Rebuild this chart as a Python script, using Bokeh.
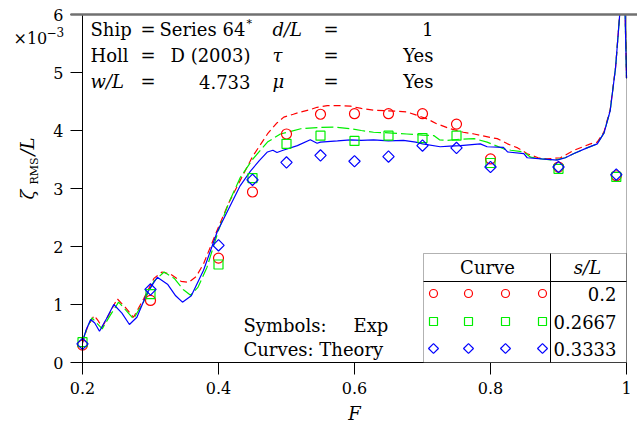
import numpy as np
from bokeh.plotting import figure
from bokeh.models import Label, Range1d, FixedTicker, BoxAnnotation, CustomJSTickFormatter
from bokeh.embed import file_html
from bokeh.resources import INLINE

# ---------------- data (values in units of 1e-3; 6.0 = off the top of the scale) ----------------
x_ticks = [0.2, 0.4, 0.6, 0.8, 1.0]
y_ticks = [0, 1, 2, 3, 4, 5, 6]

exp_F = [0.2, 0.3, 0.4, 0.45, 0.5, 0.55, 0.6, 0.65, 0.7, 0.75, 0.8, 0.9, 0.985]
exp_s0200 = [0.30, 1.07, 1.80, 2.94, 3.94, 4.28, 4.29, 4.29, 4.29, 4.11, 3.51, 3.37, 3.22]
exp_s0267 = [0.35, 1.18, 1.69, 3.18, 3.77, 3.91, 3.82, 3.91, 3.87, 3.91, 3.44, 3.34, 3.20]
exp_s0333 = [0.32, 1.26, 2.02, 3.15, 3.45, 3.57, 3.47, 3.55, 3.74, 3.70, 3.37, 3.37, 3.24]

th_F_red = [0.2, 0.207, 0.217, 0.223, 0.229, 0.24, 0.251, 0.263, 0.275, 0.29, 0.305, 0.317,
            0.33, 0.345, 0.356, 0.367, 0.378, 0.398, 0.415, 0.432, 0.45, 0.472, 0.485, 0.496,
            0.51, 0.521, 0.535, 0.545, 0.56, 0.579, 0.594, 0.61, 0.628, 0.65, 0.677, 0.69,
            0.707, 0.72, 0.741, 0.76, 0.776, 0.8, 0.81, 0.825, 0.84, 0.854, 0.87, 0.883,
            0.903, 0.923, 0.947, 0.957, 0.967, 0.976, 0.984, 0.99, 0.994, 0.998, 1.0]
th_s0200 = [0.33, 0.60, 0.81, 0.72, 0.61, 0.85, 1.10, 0.95, 0.78, 1.10, 1.45, 1.56,
            1.52, 1.40, 1.38, 1.48, 1.70, 2.28, 2.75, 3.14, 3.55, 3.94, 4.12, 4.23,
            4.28, 4.32, 4.36, 4.40, 4.43, 4.43, 4.42, 4.38, 4.35, 4.34, 4.32, 4.27,
            4.20, 4.12, 4.03, 3.97, 3.94, 3.88, 3.86, 3.77, 3.70, 3.60, 3.53, 3.51,
            3.53, 3.66, 3.77, 3.80, 3.98, 4.36, 5.10, 6.00, 6.00, 6.00, 4.90]

th_F_green = [0.2, 0.207, 0.214, 0.221, 0.229, 0.24, 0.253, 0.264, 0.275, 0.29, 0.305, 0.32,
              0.335, 0.348, 0.359, 0.37, 0.383, 0.4, 0.415, 0.432, 0.45, 0.472, 0.491, 0.505,
              0.521, 0.545, 0.57, 0.594, 0.61, 0.628, 0.65, 0.677, 0.7, 0.717, 0.725, 0.736,
              0.755, 0.776, 0.795, 0.82, 0.83, 0.849, 0.859, 0.875, 0.893, 0.91, 0.922,
              0.942, 0.957, 0.967, 0.976, 0.984, 0.99, 0.994, 0.998, 1.0]
th_s0267 = [0.38, 0.60, 0.77, 0.68, 0.58, 0.80, 1.04, 0.90, 0.75, 1.05, 1.40, 1.56,
            1.45, 1.26, 1.16, 1.30, 1.64, 2.28, 2.75, 3.19, 3.50, 3.80, 3.94, 3.98,
            4.03, 4.05, 4.06, 4.03, 4.00, 3.97, 3.96, 3.94, 3.92, 3.91, 3.84, 3.83,
            3.85, 3.86, 3.80, 3.68, 3.66, 3.63, 3.54, 3.51, 3.49, 3.53, 3.60,
            3.70, 3.77, 3.96, 4.34, 5.09, 6.00, 6.00, 6.00, 4.90]

th_F_blue = [0.2, 0.205, 0.212, 0.218, 0.225, 0.235, 0.246, 0.258, 0.269, 0.28, 0.295, 0.31,
             0.325, 0.337, 0.347, 0.36, 0.378, 0.398, 0.415, 0.432, 0.447, 0.46, 0.472, 0.48,
             0.486, 0.495, 0.516, 0.535, 0.545, 0.55, 0.575, 0.594, 0.61, 0.628, 0.65, 0.672,
             0.69, 0.7, 0.726, 0.74, 0.756, 0.785, 0.795, 0.819, 0.825, 0.849, 0.854, 0.875,
             0.898, 0.91, 0.922, 0.942, 0.957, 0.967, 0.976, 0.984, 0.99, 0.994, 0.998, 1.0]
th_s0333 = [0.35, 0.55, 0.74, 0.68, 0.54, 0.75, 1.00, 0.85, 0.655, 0.78, 1.20, 1.47,
            1.35, 1.15, 1.04, 1.15, 1.59, 2.25, 2.65, 3.05, 3.30, 3.48, 3.63, 3.66,
            3.62, 3.66, 3.74, 3.84, 3.78, 3.80, 3.82, 3.84, 3.83, 3.84, 3.82, 3.83,
            3.80, 3.77, 3.72, 3.73, 3.74, 3.77, 3.72, 3.71, 3.63, 3.60, 3.53, 3.51,
            3.49, 3.53, 3.60, 3.70, 3.77, 3.96, 4.34, 5.09, 6.00, 6.00, 6.00, 4.90]

sL_labels = ["0.2", "0.2667", "0.3333"]
colors = ["#ff0000", "#00ee00", "#0000ff"]

# ---------------- layout geometry (page px -> data) ----------------
W, H = 637, 434
PX_X0, PX_PER_X = 82, 680.0   # page x of F=0.2, px per unit F
PX_Y0, PX_PER_Y = 362, 58.0   # page y of 0, px per unit (1e-3)

def X(px):
    return 0.2 + (px - PX_X0) / PX_PER_X

def Y(py):
    return (PX_Y0 - py) / PX_PER_Y

FONT = "DejaVu Serif"
p = figure(width=W, height=H, output_backend="svg", toolbar_location=None,
           x_range=Range1d(X(0), X(W)), y_range=Range1d(Y(H), Y(0)),
           min_border=0, min_border_left=0, min_border_right=0,
           min_border_top=0, min_border_bottom=0)
p.background_fill_color = "white"
p.border_fill_color = "white"
p.outline_line_color = None
p.xgrid.visible = False
p.ygrid.visible = False

for ax in (p.xaxis[0], p.yaxis[0]):
    ax.axis_line_color = "black"
    ax.axis_line_width = 1
    ax.major_tick_line_color = "black"
    ax.major_tick_out = 12
    ax.major_tick_in = 0
    ax.minor_tick_line_color = None
    ax.major_label_text_font = FONT
    ax.major_label_text_font_size = "16px"
    ax.major_label_text_color = "black"
    ax.major_label_standoff = 7
p.xaxis.fixed_location = 0
p.xaxis.bounds = (0.2, 1.0)
p.yaxis.fixed_location = 0.2
p.yaxis.bounds = (0, 6)
p.xaxis.ticker = FixedTicker(ticks=x_ticks)
p.yaxis.ticker = FixedTicker(ticks=y_ticks)
p.xaxis.formatter = CustomJSTickFormatter(code="return Math.abs(tick-1) < 1e-9 ? '1' : tick.toFixed(1);")

# theory curves
p.line(th_F_red, th_s0200, line_color=colors[0], line_width=1.2, line_dash="7 4")
p.line(th_F_green, th_s0267, line_color=colors[1], line_width=1.2, line_dash="12 4")
p.line(th_F_blue, th_s0333, line_color=colors[2], line_width=1.2)

# experiments
p.scatter(exp_F, exp_s0200, marker="circle", size=10, fill_color=None, line_color=colors[0], line_width=1.2)
p.scatter(exp_F, exp_s0267, marker="square", size=9, fill_color=None, line_color=colors[1], line_width=1.2)
p.scatter(exp_F, exp_s0333, marker="square", angle=np.pi / 4, size=8, fill_color=None,
          line_color=colors[2], line_width=1.2)

# table background
p.add_layout(BoxAnnotation(left=X(423), right=1.0, top=Y(253), bottom=0,
                           fill_color="white", fill_alpha=1.0, line_color="black", line_width=1,
                           level="annotation"))
# axes box border
p.add_layout(BoxAnnotation(left=0.2, right=1.0, bottom=0, top=6, fill_color=None,
                           line_color="black", line_width=1, level="annotation"))
p.segment(x0=[X(70)], y0=[6], x1=[X(W)], y1=[6], line_color="#707070", line_width=2.5, level="overlay")


def lab(text, px, py, size="18px", align="left", style="normal", baseline="middle", angle=0):
    p.add_layout(Label(x=X(px), y=Y(py), text=text, text_font=FONT, text_font_size=size,
                       text_align=align, text_baseline=baseline, text_font_style=style,
                       text_color="black", angle=angle, level="overlay"))

# parameter block
r1, r2, r3 = 28.5, 54.5, 81.0
lab("Ship", 90, r1)
lab("=", 140, r1)
lab("Series 64", 159, r1)
lab("*", 246, r1 - 6, size="11px")
lab("Holl", 90, r2)
lab("=", 140, r2)
lab("D (2003)", 250, r2, align="right")
lab("w/L", 90, r3, style="italic")
lab("=", 140, r3)
lab("4.733", 250, r3, align="right")
lab("d/L", 272, r1, style="italic")
lab("τ", 272, r2, style="italic")
lab("μ", 272, r3, style="italic")
for r in (r1, r2, r3):
    lab("=", 323, r)
lab("1", 433, r1, align="right")
lab("Yes", 433, r2, align="right")
lab("Yes", 433, r3, align="right")

# multiplier
lab("×10", 13, 38, size="16px")
lab("−3", 46, 31, size="12px")

# annotations
lab("Symbols:", 243, 325)
lab("Exp", 353, 325)
lab("Curves: Theory", 243, 349)

# axis titles
lab("F", 354, 413, style="italic", align="center")
lab("ζ", 27, 199, size="18px", style="italic", baseline="alphabetic", angle=np.pi / 2)
lab("RMS", 34, 184, size="11px", baseline="alphabetic", angle=np.pi / 2)
lab("/L", 27, 155, size="18px", style="italic", baseline="alphabetic", angle=np.pi / 2)

# ---------------- table contents ----------------
p.segment(x0=[X(423), X(550)], y0=[Y(281), Y(253)], x1=[1.0, X(550)], y1=[Y(281), 0],
          line_color="black", line_width=1, level="overlay")
lab("Curve", 487, 267, align="center")
lab("s/L", 587, 267, align="center", style="italic")
mx = [X(v) for v in (433, 468, 505, 542)]
rows_y = [293, 321, 348]
p.scatter(mx, [Y(rows_y[0])] * 4, marker="circle", size=8, fill_color=None, line_color=colors[0],
          line_width=1.2, level="overlay")
p.scatter(mx, [Y(rows_y[1])] * 4, marker="square", size=8, fill_color=None, line_color=colors[1],
          line_width=1.2, level="overlay")
p.scatter(mx, [Y(rows_y[2])] * 4, marker="square", angle=np.pi / 4, size=7, fill_color=None,
          line_color=colors[2], line_width=1.2, level="overlay")
for t, ry in zip(sL_labels, rows_y):
    lab(t, 616, ry, align="right")

open("out.html", "w").write(file_html(p, INLINE))
